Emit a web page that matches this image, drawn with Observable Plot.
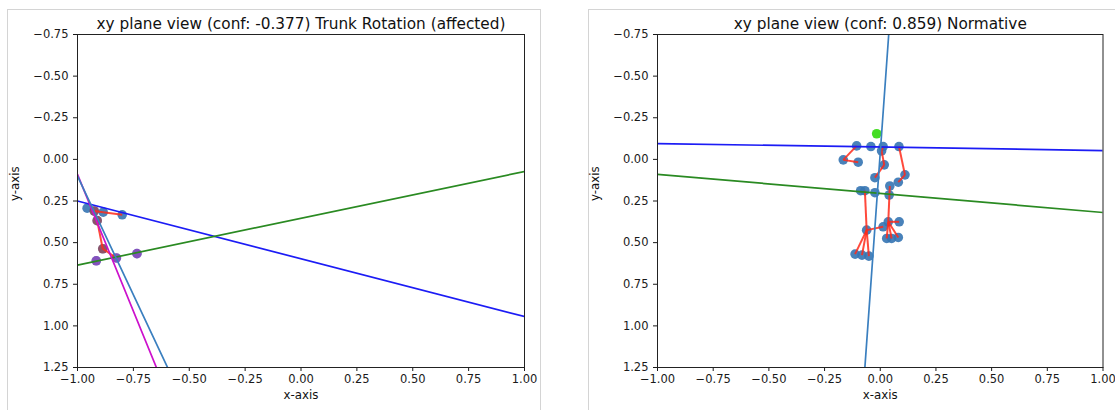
<!DOCTYPE html>
<html>
<head>
<meta charset="utf-8">
<script src="https://cdn.jsdelivr.net/npm/d3@7"></script>
<script src="https://cdn.jsdelivr.net/npm/@observablehq/plot@0.6"></script>
<style>
  html, body { margin: 0; padding: 0; background: #fff; width: 1115px; height: 410px; overflow: hidden; }
  .panel { position: absolute; border: 1px solid #d4d4d4; border-bottom: none; }
  .chart { position: absolute; top: 0; }
  svg { font-family: "DejaVu Sans", sans-serif; overflow: visible; }
</style>
</head>
<body>
<div class="panel" style="left:7px; top:9px; width:532px; height:420px;"></div>
<div class="panel" style="left:588px; top:9px; width:540px; height:420px;"></div>
<div id="left" class="chart" style="left:0px;"></div>
<div id="right" class="chart" style="left:580px;"></div>
<script>
// ---------- data ----------
const titles = ["xy plane view (conf: -0.377) Trunk Rotation (affected)", "xy plane view (conf: 0.859) Normative"];
const xTicks = [-1, -0.75, -0.5, -0.25, 0, 0.25, 0.5, 0.75, 1];
const yTicks = [-0.75, -0.5, -0.25, 0, 0.25, 0.5, 0.75, 1, 1.25];

// left panel: joints
const leftX = [-0.957, -0.925, -0.885, -0.800, -0.912, -0.887, -0.916, -0.826, -0.734];
const leftY = [0.293, 0.310, 0.317, 0.333, 0.368, 0.537, 0.609, 0.592, 0.566];
const leftTint = ["none", "red", "none", "none", "red", "red", "magenta", "magenta", "magenta"];
const leftBones = [[1, 2], [2, 3], [1, 4], [4, 5], [5, 7]];
// left panel: fitted lines (endpoints)
const leftLineIds = ["blue", "green", "magenta", "steel"];
const leftLineX = [[-1, 1], [-1, 1], [-1, -0.647], [-1, -0.597]];
const leftLineY = [[0.25, 0.944], [0.635, 0.073], [0.09, 1.25], [0.10, 1.25]];

// right panel: joints
const rightX = [-0.106, -0.042, 0.013, 0.084, 0.006, -0.166, -0.099, 0.018, -0.024, 0.111, 0.081,
                -0.088, -0.069, -0.024, 0.043, 0.040, -0.061, 0.013, 0.036, 0.085, 0.029, 0.051, 0.081,
                -0.113, -0.082, -0.051];
const rightY = [-0.081, -0.077, -0.077, -0.077, -0.051, 0.003, 0.017, 0.033, 0.110, 0.093, 0.137,
                0.188, 0.188, 0.200, 0.160, 0.214, 0.425, 0.405, 0.375, 0.375, 0.475, 0.475, 0.469,
                0.569, 0.575, 0.581];
const rightHead = [[-0.016, -0.154]];
const rightBones = [[0, 5], [5, 6], [2, 4], [4, 7], [7, 8], [3, 9], [9, 10],
                    [12, 16], [16, 23], [16, 24], [16, 25], [16, 17],
                    [14, 18], [18, 19], [18, 20], [18, 21], [18, 22]];
const rightLineIds = ["blue", "green", "steel"];
const rightLineX = [[-1, 1], [-1, 1], [0.038, -0.069]];
const rightLineY = [[-0.095, -0.053], [0.09, 0.319], [-0.75, 1.25]];

// ---------- styles ----------
const lineColors = {blue: "#1c1cf5", green: "#2a8a22", magenta: "#cc11cc", steel: "#3a7fbf"};
const tintColors = {red: "#d0241a", magenta: "#c020c0"};
const dotColor = "#3574b2";
const boneColor = "#ff2a1a";
const fmt = d3.format(".2f");

function panel(el, title, X, Y, tint, bones, lineIds, LX, LY, head, width, mR) {
  const idx = d3.range(X.length);
  const marks = [];
  marks.push(Plot.dot(idx, {x: i => X[i], y: i => Y[i], r: 4.8, fill: dotColor, fillOpacity: 0.9}));
  if (tint) {
    const t = idx.filter(i => tint[i] !== "none");
    marks.push(Plot.dot(t, {x: i => X[i], y: i => Y[i], r: 4.8, fill: i => tintColors[tint[i]], fillOpacity: 0.5}));
  }
  marks.push(Plot.link(bones, {x1: b => X[b[0]], y1: b => Y[b[0]], x2: b => X[b[1]], y2: b => Y[b[1]],
    stroke: boneColor, strokeWidth: 2, strokeOpacity: 0.85}));
  if (head) marks.push(Plot.dot(head, {x: d => d[0], y: d => d[1], r: 4.8, fill: "#44dd22"}));
  lineIds.forEach((id, i) => {
    const pts = [0, 1].map(j => ({x: LX[i][j], y: LY[i][j]}));
    marks.push(Plot.line(pts, {x: "x", y: "y", stroke: lineColors[id], strokeWidth: 1.7, clip: true}));
  });
  marks.push(Plot.frame({stroke: "#222", strokeWidth: 1}));
  marks.push(Plot.text([title], {frameAnchor: "top", dy: -16, fontSize: 15.3, fill: "#111"}));
  marks.push(Plot.text(["x-axis"], {frameAnchor: "bottom", dy: 31, fontSize: 11.8, fill: "#111"}));
  marks.push(Plot.text(["y-axis"], {frameAnchor: "left", dx: -62, rotate: -90, fontSize: 11.8, fill: "#111"}));
  const chart = Plot.plot({
    width, height: 410,
    marginLeft: 77, marginRight: mR, marginTop: 34, marginBottom: 43,
    style: {fontFamily: "DejaVu Sans, sans-serif", fontSize: "11.5px", color: "#1a1a1a", background: "transparent", overflow: "visible"},
    x: {domain: [-1, 1], ticks: xTicks, tickFormat: fmt, label: null, tickSize: 4, tickPadding: 3},
    y: {domain: [-0.75, 1.25], reverse: true, ticks: yTicks, tickFormat: fmt, label: null, tickSize: 4, tickPadding: 5},
    marks
  });
  document.getElementById(el).appendChild(chart);
}

panel("left", titles[0], leftX, leftY, leftTint, leftBones, leftLineIds, leftLineX, leftLineY, null, 540, 16);
panel("right", titles[1], rightX, rightY, null, rightBones, rightLineIds, rightLineX, rightLineY, rightHead, 535, 12.5);
</script>
</body>
</html>
